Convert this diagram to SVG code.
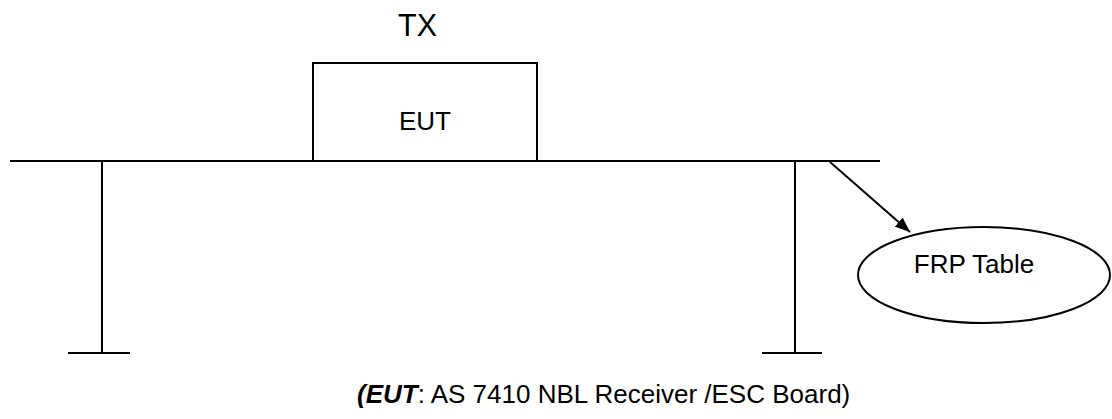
<svg xmlns="http://www.w3.org/2000/svg" width="1112" height="419" viewBox="0 0 1112 419">
<style>
.ln{stroke:#000;stroke-width:2;fill:none}
.t{font-family:"Liberation Sans",Arial,sans-serif;fill:#000}
</style>
<defs>
<marker id="ah" viewBox="0 0 15 12" refX="15" refY="6" markerWidth="7.5" markerHeight="6" orient="auto" markerUnits="strokeWidth">
<path d="M0,0 L15,6 L0,12 z" fill="#000"/>
</marker>
</defs>
<rect width="1112" height="419" fill="#fff"/>
<g id="table">
<line class="ln" x1="10" y1="161" x2="880" y2="161"/>
<line class="ln" x1="102" y1="161" x2="102" y2="353"/>
<line class="ln" x1="68" y1="353" x2="130" y2="353"/>
<line class="ln" x1="795" y1="161" x2="795" y2="353"/>
<line class="ln" x1="762" y1="353" x2="822" y2="353"/>
</g>
<g id="tx"><text class="t" x="417.5" y="36" font-size="30.5" text-anchor="middle">TX</text></g>
<g id="eut">
<rect class="ln" x="313" y="63" width="224" height="98" fill="#fff"/>
<text class="t" x="425" y="130" font-size="26" text-anchor="middle">EUT</text>
</g>
<g id="frp">
<ellipse class="ln" cx="984" cy="275" rx="126" ry="48"/>
<text class="t" x="974" y="273" font-size="26" text-anchor="middle">FRP Table</text>
</g>
<g id="connectors">
<line class="ln" x1="830" y1="162" x2="910" y2="232" marker-end="url(#ah)"/>
</g>
<g id="caption">
<text class="t" x="357" y="403" font-size="26"><tspan font-weight="bold" font-style="italic">(EUT</tspan>: AS 7410 NBL Receiver /ESC Board)</text>
</g>
</svg>
